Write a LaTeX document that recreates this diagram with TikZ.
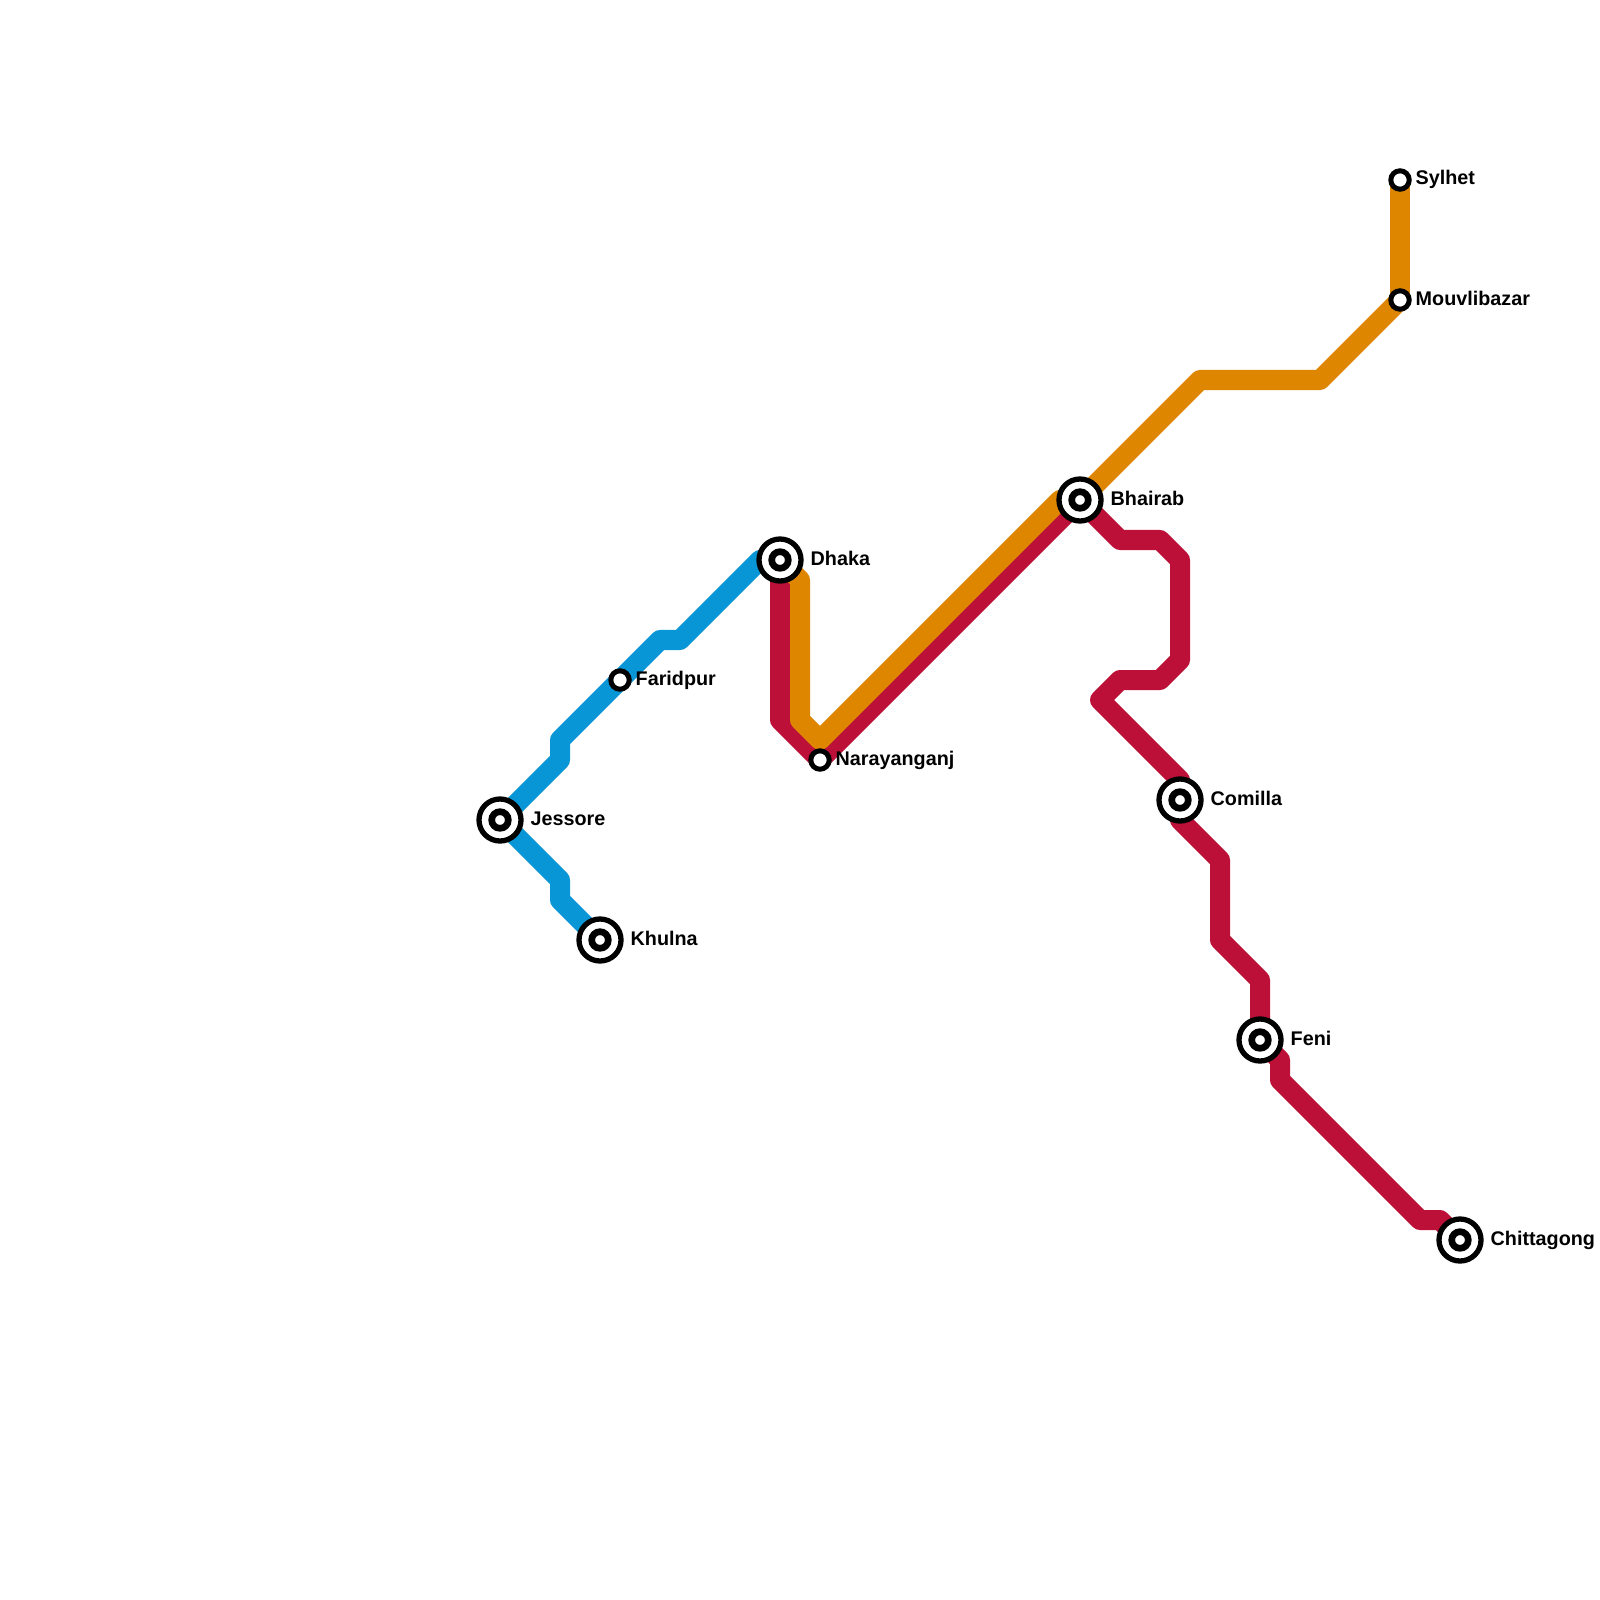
\documentclass[tikz,border=0pt]{standalone}
\usepackage{fontspec}
\setmainfont{Liberation Sans}
\definecolor{lineblue}{HTML}{0896D7}
\definecolor{linered}{HTML}{BD1038}
\definecolor{lineorange}{HTML}{DF8600}
\usetikzlibrary{backgrounds}
\tikzset{
    metroline/.style={line width=0.2cm, line join=round},
    smallstop/.style={circle, draw=black, fill=white, line width=0.05cm, minimum size=0.184cm, inner sep=0pt},
    bigstop/.style={circle, draw=black, fill=white, line width=0.053cm, minimum size=0.42cm, inner sep=0pt,
        path picture={\draw[line width=0.067cm] (path picture bounding box.center) circle (0.083cm);}},
    stoplabel/.style={anchor=base west, inner sep=0pt, font=\fontsize{5.62}{6.7}\selectfont\bfseries}
}

\begin{document}
\begin{tikzpicture}[x=0.01cm, y=-0.01cm]
    \useasboundingbox (0,0) rectangle (1600,1600);

    \node[bigstop] (jessore) at (500,820) {};
    \node[bigstop] (khulna) at (600,940) {};
    \node[smallstop] (faridpur) at (620,680) {};
    \node[bigstop] (dhaka) at (780,560) {};
    \node[smallstop] (narayanganj) at (820,760) {};
    \node[bigstop] (bhairab) at (1080,500) {};
    \node[bigstop] (comilla) at (1180,800) {};
    \node[bigstop] (feni) at (1260,1040) {};
    \node[bigstop] (chittagong) at (1460,1240) {};
    \node[smallstop] (sylhet) at (1400,180) {};
    \node[smallstop] (mouvlibazar) at (1400,300) {};

    \node[stoplabel] (jessorelabel) at (530,825) {Jessore};
    \node[stoplabel] (khulnalabel) at (630,945) {Khulna};
    \node[stoplabel] (faridpurlabel) at (635,685) {Faridpur};
    \node[stoplabel] (dhakalabel) at (810,565) {Dhaka};
    \node[stoplabel] (narayanganjlabel) at (835,765) {Narayanganj};
    \node[stoplabel] (bhairablabel) at (1110,505) {Bhairab};
    \node[stoplabel] (comillalabel) at (1210,805) {Comilla};
    \node[stoplabel] (fenilabel) at (1290,1045) {Feni};
    \node[stoplabel] (chittagonglabel) at (1490,1245) {Chittagong};
    \node[stoplabel] (sylhetlabel) at (1415,185) {Sylhet};
    \node[stoplabel] (mouvlibazarlabel) at (1415,305) {Mouvlibazar};

    \begin{scope}[on background layer]
        \draw[metroline, lineblue] (dhaka.center) -- (760,560) -- (680,640) -- (660,640) -- (faridpur.center)
            -- (560,740) -- (560,760) -- (jessore.center);
        \draw[metroline, lineblue] (jessore.center) -- (560,880) -- (560,900) -- (khulna.center);
        \draw[metroline, linered] (dhaka.center) -- (780,720) -- (narayanganj.center) -- (bhairab.center)
            -- (1120,540) -- (1160,540) -- (1180,560) -- (1180,660) -- (1160,680) -- (1120,680)
            -- (1100,700) -- (1180,780) -- (comilla.center);
        \draw[metroline, linered] (comilla.center) -- (1180,820) -- (1220,860) -- (1220,940) -- (1260,980)
            -- (feni.center);
        \draw[metroline, linered] (feni.center) -- (1280,1060) -- (1280,1080) -- (1420,1220) -- (1440,1220)
            -- (chittagong.center);
        \draw[metroline, lineorange] (dhaka.center) -- (800,580) -- (800,720) -- (820,740) -- (1060,500)
            -- (bhairab.center);
        \draw[metroline, lineorange] (bhairab.center) -- (1200,380) -- (1320,380) -- (mouvlibazar.center);
        \draw[metroline, lineorange] (mouvlibazar.center) -- (sylhet.center);
    \end{scope}
\end{tikzpicture}
\end{document}
